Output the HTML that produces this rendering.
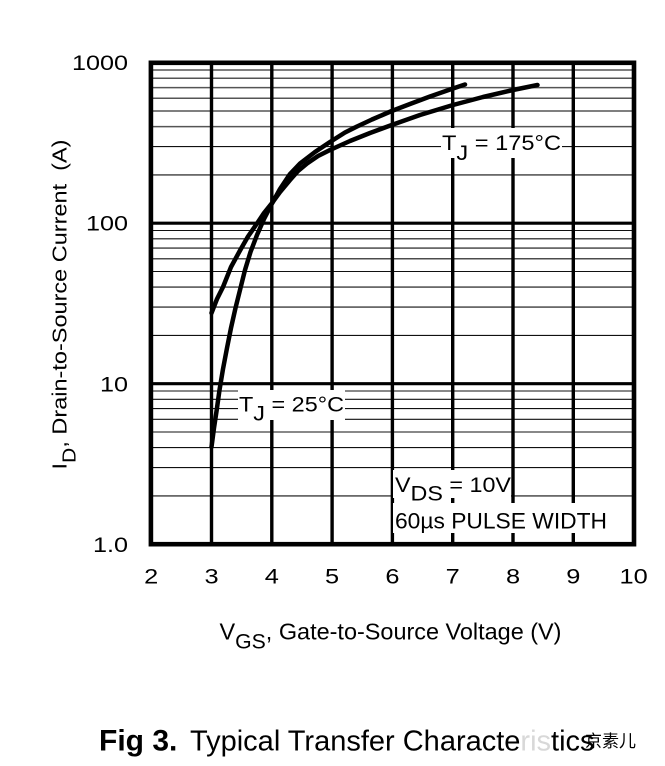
<!DOCTYPE html>
<html>
<head>
<meta charset="utf-8">
<style>
html,body{margin:0;padding:0;background:#fff;}
svg{display:block;}
text{font-family:"Liberation Sans","Noto Sans CJK SC",sans-serif;fill:#000;}
</style>
</head>
<body>
<svg width="665" height="766" viewBox="0 0 665 766" xmlns="http://www.w3.org/2000/svg">
<rect x="0" y="0" width="665" height="766" fill="#fff"/>

<!-- minor horizontal grid -->
<g stroke="#111" stroke-width="1.1">
<line x1="151" x2="634" y1="495.9" y2="495.9"/>
<line x1="151" x2="634" y1="467.6" y2="467.6"/>
<line x1="151" x2="634" y1="447.6" y2="447.6"/>
<line x1="151" x2="634" y1="432.0" y2="432.0"/>
<line x1="151" x2="634" y1="419.3" y2="419.3"/>
<line x1="151" x2="634" y1="408.6" y2="408.6"/>
<line x1="151" x2="634" y1="399.3" y2="399.3"/>
<line x1="151" x2="634" y1="391.0" y2="391.0"/>

<line x1="151" x2="634" y1="335.4" y2="335.4"/>
<line x1="151" x2="634" y1="307.1" y2="307.1"/>
<line x1="151" x2="634" y1="287.1" y2="287.1"/>
<line x1="151" x2="634" y1="271.5" y2="271.5"/>
<line x1="151" x2="634" y1="258.8" y2="258.8"/>
<line x1="151" x2="634" y1="248.1" y2="248.1"/>
<line x1="151" x2="634" y1="238.8" y2="238.8"/>
<line x1="151" x2="634" y1="230.5" y2="230.5"/>

<line x1="151" x2="634" y1="174.9" y2="174.9"/>
<line x1="151" x2="634" y1="146.6" y2="146.6"/>
</g>
<g stroke="#555" stroke-width="1.5">
<line x1="151" x2="634" y1="126.6" y2="126.6"/>
<line x1="151" x2="634" y1="111.0" y2="111.0"/>
<line x1="151" x2="634" y1="98.3" y2="98.3"/>
<line x1="151" x2="634" y1="87.6" y2="87.6"/>
<line x1="151" x2="634" y1="78.3" y2="78.3"/>
<line x1="151" x2="634" y1="70.0" y2="70.0"/>
</g>

<!-- major horizontal grid -->
<g stroke="#000" stroke-width="3.2">
<line x1="151" x2="634" y1="223.2" y2="223.2"/>
<line x1="151" x2="634" y1="383.7" y2="383.7"/>
</g>

<!-- vertical grid -->
<g stroke="#000" stroke-width="3.4">
<line x1="211.5" x2="211.5" y1="62.8" y2="544.2"/>
<line x1="271.8" x2="271.8" y1="62.8" y2="544.2"/>
<line x1="332.1" x2="332.1" y1="62.8" y2="544.2"/>
<line x1="392.4" x2="392.4" y1="62.8" y2="544.2"/>
<line x1="452.7" x2="452.7" y1="62.8" y2="544.2"/>
<line x1="513.0" x2="513.0" y1="62.8" y2="544.2"/>
<line x1="573.3" x2="573.3" y1="62.8" y2="544.2"/>
</g>

<!-- frame -->
<rect x="150.9" y="62.8" width="483.1" height="481.4" fill="none" stroke="#000" stroke-width="4.6"/>

<!-- label backgrounds -->
<rect x="441" y="128" width="121" height="30" fill="#fff"/>
<rect x="238" y="390" width="107" height="30" fill="#fff"/>
<rect x="393" y="470" width="118" height="28" fill="#fff"/>
<rect x="393" y="503" width="217" height="30" fill="#fff"/>

<!-- curves -->
<g fill="none" stroke="#000" stroke-width="4.5" stroke-linejoin="round" stroke-linecap="round">
<path d="M211.5,447 L214,428 L216.7,410 L219.5,390 L223,369 L227,348 L231,328 L235.5,308 L240,290 L245,270 L250.5,252 L257,235 L264,219 L272,203.5 L280,189 L290,174 L300,163.5 L315,152 L330,142 L345,132.5 L357,126.5 L372,119.5 L391.7,111 L410,104 L430,96.5 L453,88.5 L465,84.5"/>
<path d="M211.5,313 L217,299 L223,287 L231,267 L240,250.5 L248,236.5 L257,223.5 L264,213 L272,203 L280,192 L290,180 L298,171 L307,163.5 L318,156 L330,150 L350,141 L370,133 L391.7,125 L420,115 L453,105 L483,97 L513,90 L537.5,85"/>
</g>

<!-- inside labels -->
<text x="442" y="150" font-size="21" textLength="119" lengthAdjust="spacingAndGlyphs">T<tspan dy="10">J</tspan><tspan dy="-10"> = 175°C</tspan></text>
<text x="239" y="411.7" font-size="21" textLength="105" lengthAdjust="spacingAndGlyphs">T<tspan dy="9">J</tspan><tspan dy="-9"> = 25°C</tspan></text>
<text x="395" y="492" font-size="21" textLength="116" lengthAdjust="spacingAndGlyphs">V<tspan dy="8.5">DS</tspan><tspan dy="-8.5"> = 10V</tspan></text>
<text x="395" y="528.3" font-size="22" textLength="212" lengthAdjust="spacingAndGlyphs">60µs PULSE WIDTH</text>

<!-- y tick labels -->
<g font-size="21">
<text transform="translate(128,70) scale(1.2,1)" text-anchor="end">1000</text>
<text transform="translate(128,230.3) scale(1.2,1)" text-anchor="end">100</text>
<text transform="translate(128,391.5) scale(1.2,1)" text-anchor="end">10</text>
<text transform="translate(128,552) scale(1.2,1)" text-anchor="end">1.0</text>
</g>

<!-- x tick labels -->
<g font-size="21.5" text-anchor="middle">
<text transform="translate(151.2,583.3) scale(1.18,1)">2</text>
<text transform="translate(211.5,583.3) scale(1.18,1)">3</text>
<text transform="translate(271.8,583.3) scale(1.18,1)">4</text>
<text transform="translate(332.1,583.3) scale(1.18,1)">5</text>
<text transform="translate(392.4,583.3) scale(1.18,1)">6</text>
<text transform="translate(452.7,583.3) scale(1.18,1)">7</text>
<text transform="translate(513.0,583.3) scale(1.18,1)">8</text>
<text transform="translate(573.3,583.3) scale(1.18,1)">9</text>
<text transform="translate(633.6,583.3) scale(1.18,1)">10</text>
</g>

<!-- x axis title -->
<text x="219.5" y="639.5" font-size="23.2" textLength="342" lengthAdjust="spacingAndGlyphs">V<tspan font-size="21" dy="9">GS</tspan><tspan dy="-9">, Gate-to-Source Voltage (V)</tspan></text>

<!-- y axis title -->
<text transform="translate(66.7,469.5) rotate(-90)" font-size="20.5" textLength="330" lengthAdjust="spacingAndGlyphs">I<tspan font-size="18.5" dy="9">D</tspan><tspan dy="-9">, Drain-to-Source Current&#160;&#160;(A)</tspan></text>

<!-- caption -->
<text x="99" y="750.4" font-size="30" font-weight="bold">Fig 3.</text>
<text x="190" y="750.4" font-size="29">Typical Transfer Characte<tspan fill="#d8d8d8">ris</tspan>tics</text>
<text x="585" y="747" font-size="17" fill="#c4c4c4">京素儿</text>
</svg>
</body>
</html>
